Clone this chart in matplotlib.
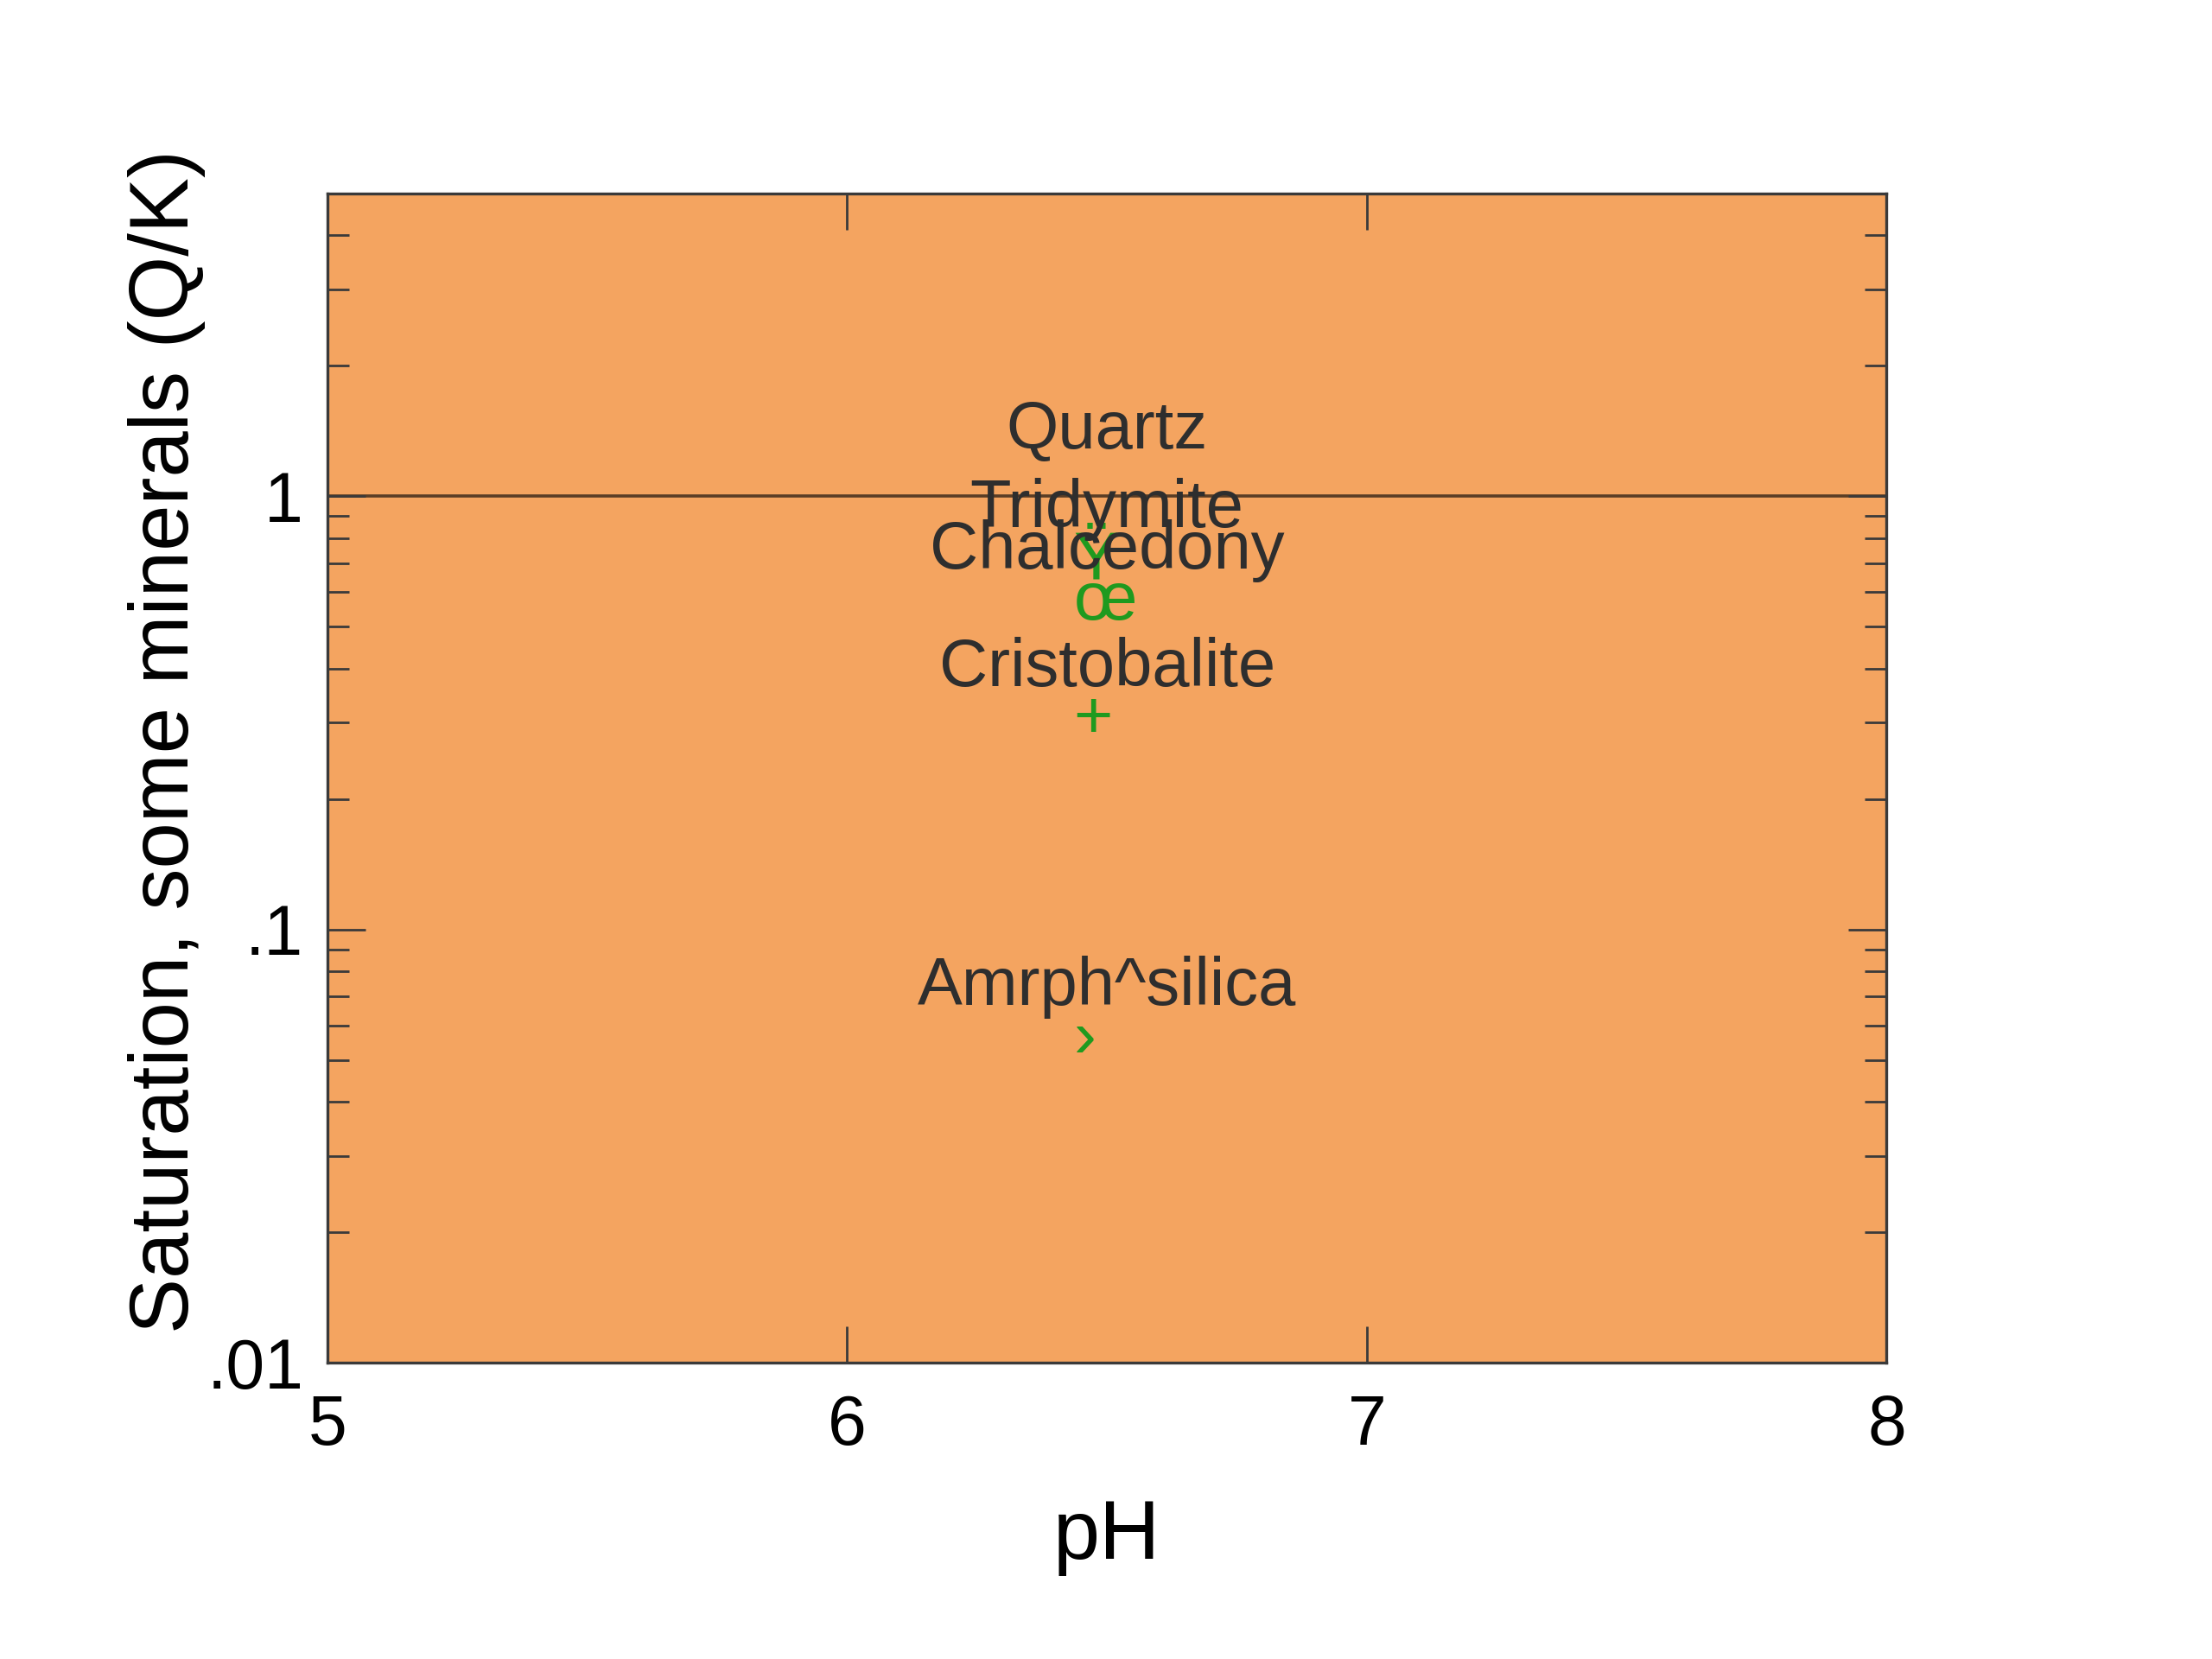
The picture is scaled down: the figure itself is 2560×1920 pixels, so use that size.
import matplotlib
matplotlib.use("Agg")
import matplotlib.pyplot as plt
from matplotlib.ticker import FixedLocator, LogLocator, NullFormatter

plt.rcParams['font.family'] = ['Liberation Sans', 'DejaVu Sans']

# silica phases at one sample, saturation index as Q/K
minerals = ["Quartz", "Tridymite", "Chalcedony", "Cristobalite", "Amrph^silica"]
ph = [6.5, 6.5, 6.5, 6.5, 6.5]
saturation = [1.08, 0.71, 0.57, 0.305, 0.056]
symbols = ["", "Ÿ", "œ", "+", "›"]

x_ticks = [5, 6, 7, 8]
y_ticks = [0.01, 0.1, 1]
y_ticklabels = [".01", ".1", "1"]

fig = plt.figure(figsize=(12.8, 9.6), dpi=200)
ax = fig.add_axes([0.148, 0.1786, 0.7049, 0.7049])
ax.set_facecolor("sandybrown")

ax.set_yscale("log")
ax.set_xlim(5, 8)
ax.set_ylim(0.01, 5)

# reference line at equilibrium
ax.axhline(1, color="#5a3d25", lw=1.3, zorder=1)

for name, x, y, sym in zip(minerals, ph, saturation, symbols):
    ax.annotate(sym, (x, y), xytext=(-14, -7.5), textcoords="offset points",
                ha="left", va="baseline", fontsize=28, color="#1f9a1f", zorder=2)
    ax.annotate(name, (x, y), xytext=(0, 14), textcoords="offset points",
                ha="center", va="baseline", fontsize=28, color="#2e2e2e", zorder=3)

ax.xaxis.set_major_locator(FixedLocator(x_ticks))
ax.set_xticklabels([str(t) for t in x_ticks])
ax.yaxis.set_major_locator(FixedLocator(y_ticks))
ax.set_yticklabels(y_ticklabels)
ax.yaxis.set_minor_locator(LogLocator(base=10, subs=range(2, 10)))
ax.yaxis.set_minor_formatter(NullFormatter())
ax.xaxis.set_minor_locator(FixedLocator([]))

ax.tick_params(which="both", direction="in", top=True, right=True, colors="#3a3a3a",
               labelcolor="black", labelsize=29)
ax.tick_params(axis="x", which="major", length=15, width=1, pad=13)
ax.tick_params(axis="y", which="major", length=16, width=1, pad=10)
ax.tick_params(axis="y", which="minor", length=9, width=1)

for sp in ax.spines.values():
    sp.set_color("#3a3a3a")
    sp.set_linewidth(1.2)

ax.set_xlabel("pH", fontsize=35, labelpad=16)
ax.set_ylabel("Saturation, some minerals (Q/K)", fontsize=34.5)
ax.yaxis.set_label_coords(-0.078, 0.531)

fig.savefig("out.png", dpi=200)
